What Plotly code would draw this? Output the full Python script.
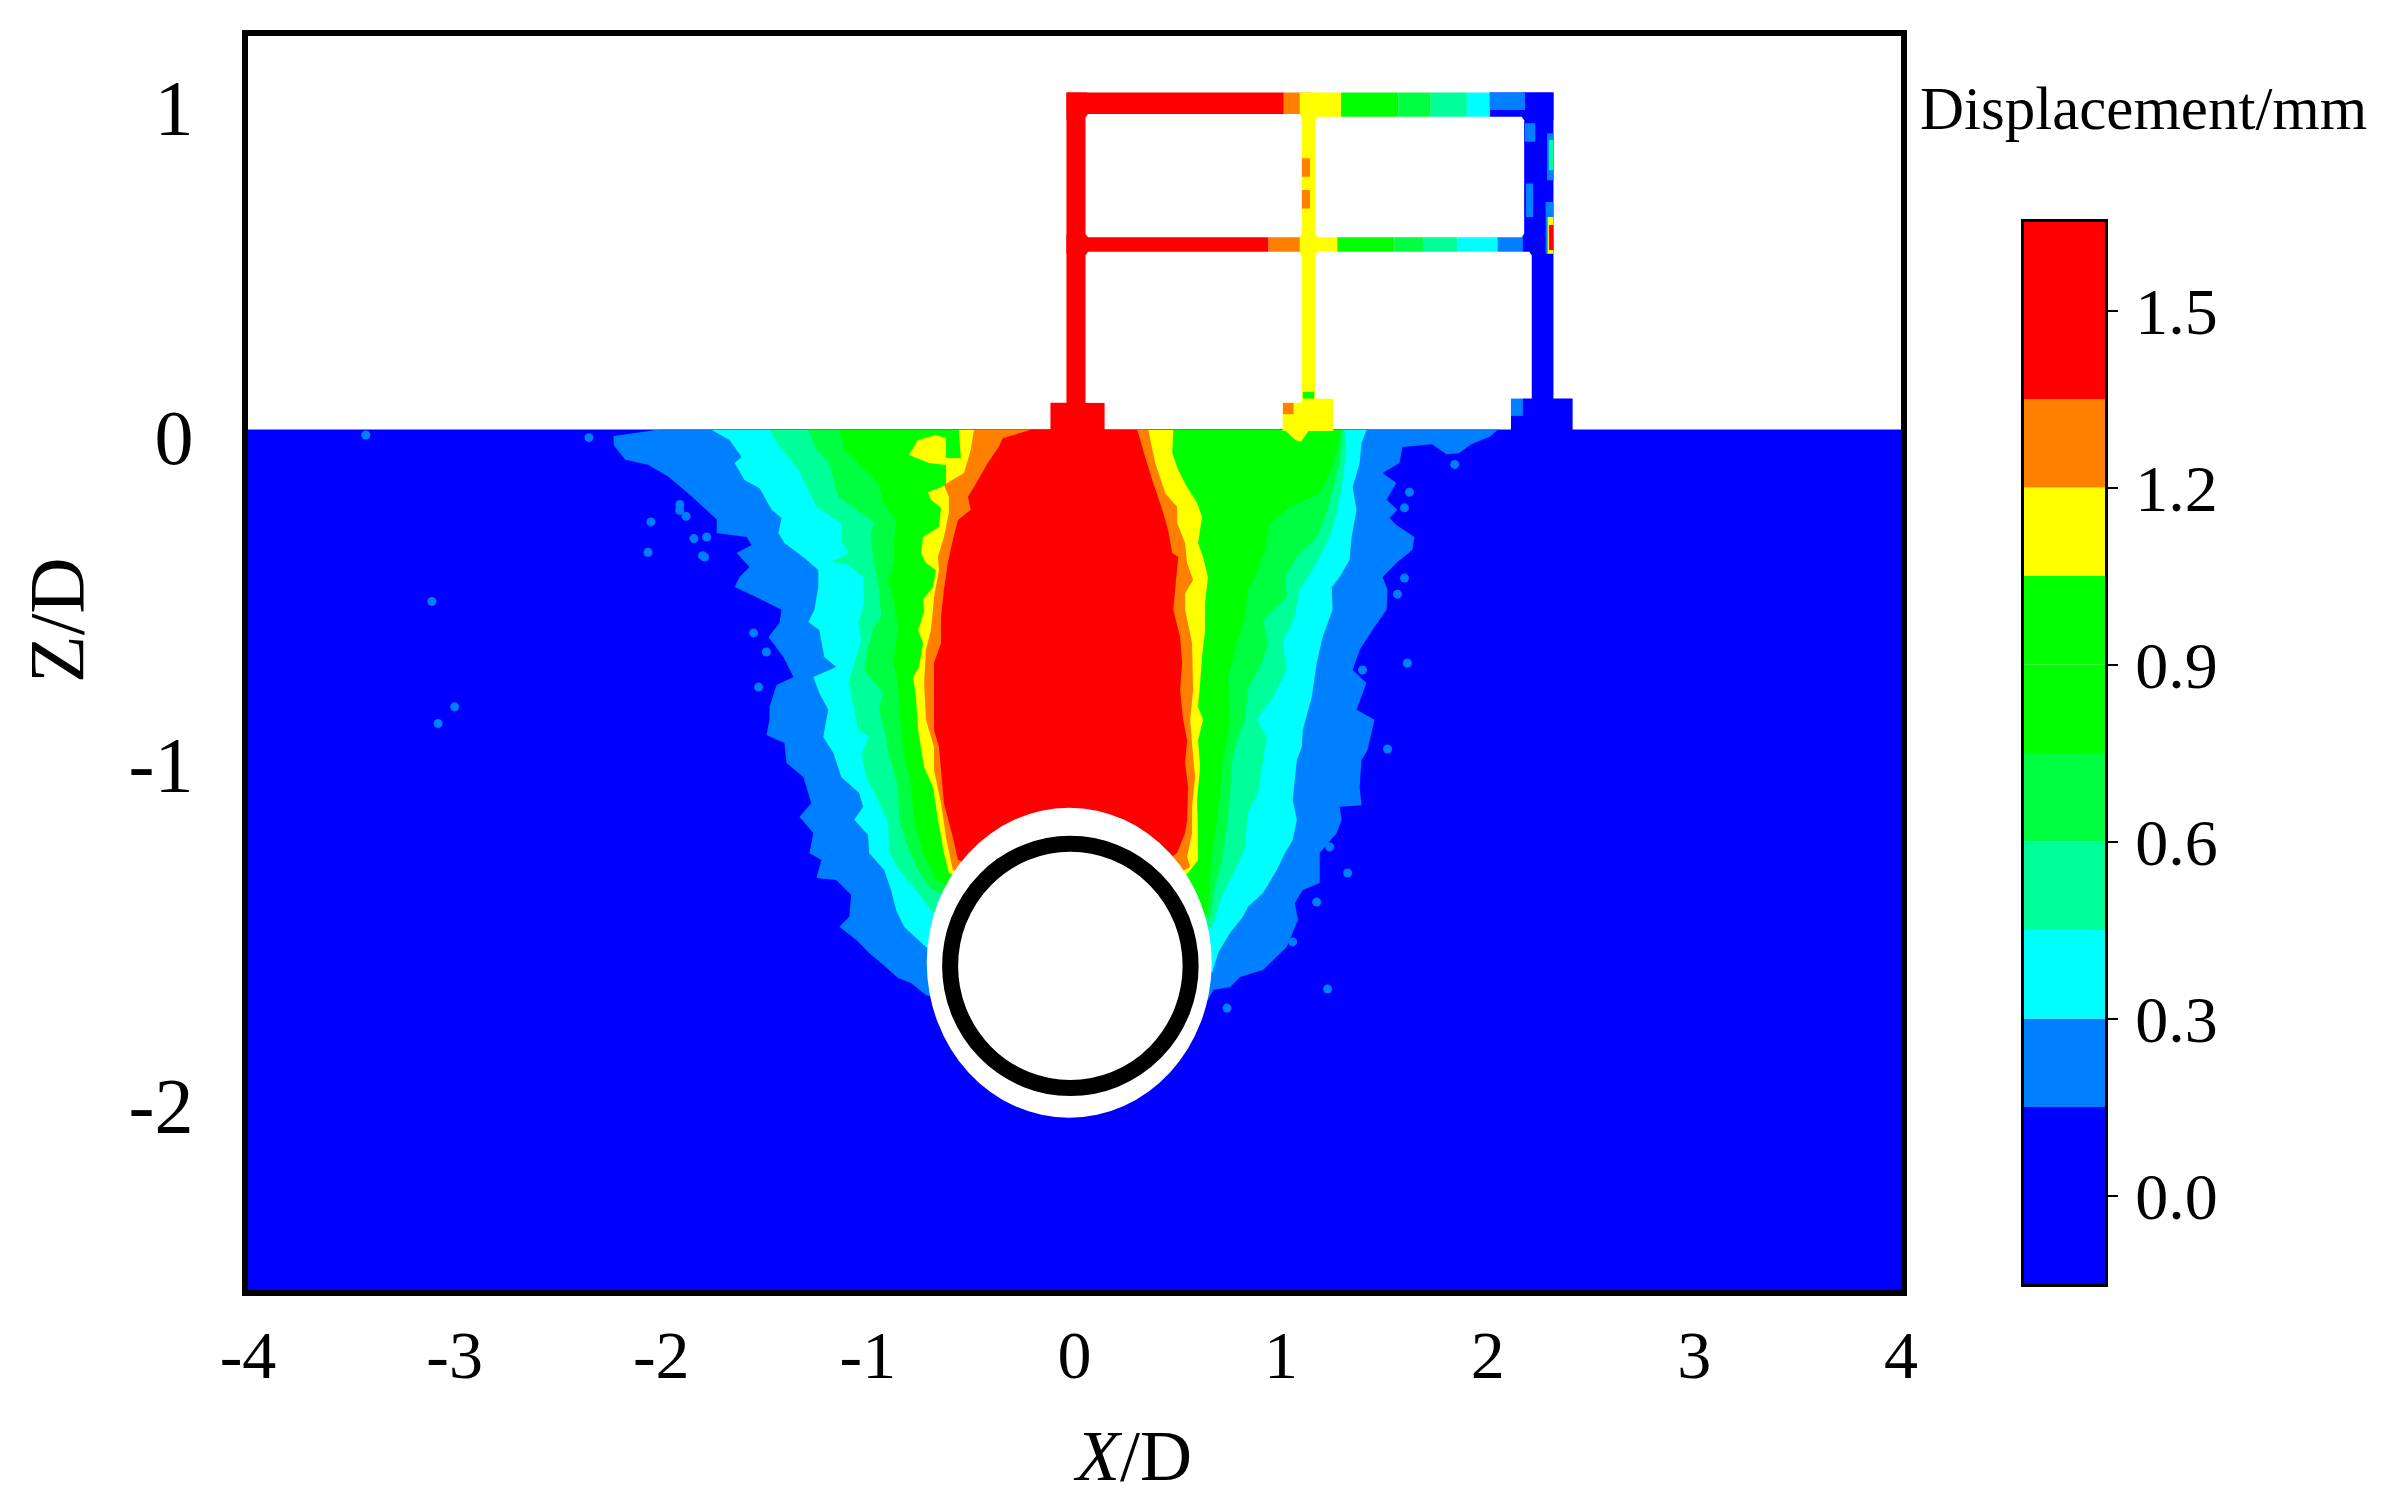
import plotly.graph_objects as go

# contour bands of the soil in X/D and Z/D
BLUE = "#0000ff"
LIGHT_BLUE = "#007fff"
CYAN = "#00ffff"
SPRING = "#00ff99"
MID_GREEN = "#00ff40"
GREEN = "#00ff00"
YELLOW = "#ffff00"
ORANGE = "#ff8000"
RED = "#ff0000"

# colour scale
SCALE_BOTTOM = [-0.15, 0.15, 0.3, 0.45, 0.6, 0.75, 0.9, 1.05, 1.2, 1.35]
SCALE_HEIGHT = [0.3, 0.15, 0.15, 0.15, 0.15, 0.15, 0.15, 0.15, 0.15, 0.3]
SCALE_COLORS = [BLUE, LIGHT_BLUE, CYAN, SPRING, MID_GREEN, GREEN, GREEN, YELLOW, ORANGE, RED]
SCALE_TICKS = [0.0, 0.3, 0.6, 0.9, 1.2, 1.5]
X_TICKS = [-4, -3, -2, -1, 0, 1, 2, 3, 4]
X_LABELS = ["-4", "-3", "-2", "-1", "0", "1", "2", "3", "4"]
# the labels on the left are not evenly spaced in the picture
Z_TICKS = [-1.985, -0.965, 0.014, 1.0]
Z_LABELS = ["-2", "-1", "0", "1"]

GROUND_X = [-4.1, 4.1, 4.1, -4.1]
GROUND_Z = [0.034, 0.034, -2.6, -2.6]

BAND_015_X = [-2.008, -2.23, -2.23, -2.174, -2.064, -1.967, -1.856, -1.731, -1.732, -1.587, -1.563, -1.635, -1.573,
              -1.621, -1.645, -1.539, -1.418, -1.428, -1.481, -1.409, -1.36, -1.442, -1.476, -1.476, -1.491, -1.404,
              -1.394, -1.312, -1.274, -1.331, -1.264, -1.283, -1.225, -1.249, -1.153, -1.081, -1.09, -1.138, -1.056,
              -0.994, -0.936, -0.854, -0.791, -0.719, -0.55, 0.56, 0.646, 0.671, 0.753, 0.801, 0.912, 0.96, 1.027,
              1.056, 1.081, 1.066, 1.105, 1.187, 1.187, 1.269, 1.293, 1.283, 1.389, 1.38, 1.389, 1.418, 1.452, 1.365,
              1.413, 1.346, 1.38, 1.442, 1.51, 1.515, 1.491, 1.558, 1.635, 1.645, 1.558, 1.524, 1.563, 1.51, 1.558,
              1.491, 1.573, 1.587, 1.73, 1.8, 1.86, 1.92, 2.01, 2.05]
BAND_015_Z = [0.034, 0.015, -0.013, -0.056, -0.071, -0.106, -0.164, -0.235, -0.275, -0.287, -0.311, -0.335, -0.377,
              -0.407, -0.437, -0.467, -0.505, -0.544, -0.586, -0.646, -0.706, -0.73, -0.795, -0.834, -0.879, -0.903,
              -0.963, -1.005, -1.083, -1.124, -1.172, -1.232, -1.253, -1.307, -1.313, -1.358, -1.423, -1.453, -1.492,
              -1.531, -1.561, -1.606, -1.621, -1.657, -1.687, -1.687, -1.672, -1.642, -1.633, -1.603, -1.582, -1.552,
              -1.513, -1.471, -1.432, -1.382, -1.343, -1.322, -1.232, -1.172, -1.133, -1.094, -1.089, -1.035, -0.954,
              -0.924, -0.834, -0.804, -0.724, -0.685, -0.625, -0.565, -0.505, -0.446, -0.407, -0.365, -0.326, -0.287,
              -0.251, -0.23, -0.206, -0.176, -0.126, -0.096, -0.066, -0.018, -0.01, -0.04, -0.037, -0.01, 0.013, 0.034]

BAND_03_X = [-1.756, -1.669, -1.611, -1.645, -1.597, -1.524, -1.466, -1.418, -1.433, -1.404, -1.307, -1.24, -1.24,
             -1.259, -1.288, -1.235, -1.211, -1.153, -1.264, -1.235, -1.192, -1.201, -1.216, -1.167, -1.129, -1.042,
             -1.023, -1.066, -0.999, -0.994, -0.921, -0.888, -0.863, -0.825, -0.719, -0.55, 0.56, 0.666, 0.695, 0.753,
             0.815, 0.839, 0.912, 0.979, 1.018, 1.056, 1.076, 1.056, 1.066, 1.076, 1.1, 1.105, 1.148, 1.172, 1.201,
             1.249, 1.245, 1.283, 1.331, 1.341, 1.365, 1.346, 1.38, 1.389, 1.413]
BAND_03_Z = [0.033, 0.003, -0.048, -0.066, -0.117, -0.141, -0.206, -0.23, -0.275, -0.305, -0.35, -0.386, -0.437,
             -0.505, -0.541, -0.565, -0.646, -0.676, -0.706, -0.754, -0.804, -0.834, -0.885, -0.933, -1.005, -1.053,
             -1.094, -1.133, -1.178, -1.232, -1.283, -1.343, -1.403, -1.453, -1.513, -1.552, -1.552, -1.591, -1.531,
             -1.471, -1.423, -1.394, -1.352, -1.283, -1.232, -1.193, -1.133, -1.074, -1.023, -0.954, -0.915, -0.864,
             -0.766, -0.664, -0.586, -0.505, -0.437, -0.407, -0.356, -0.287, -0.206, -0.138, -0.066, -0.006, 0.033]

BAND_045_X = [-1.476, -1.428, -1.394, -1.336, -1.288, -1.249, -1.129, -1.129, -1.095, -1.177, -1.095, -1.023, -1.018,
              -1.047, -1.032, -1.056, -1.095, -1.066, -1.047, -0.994, -1.032, -1.008, -0.945, -0.902, -0.897, -0.849,
              -0.757, -0.695, -0.55, 0.56, 0.666, 0.719, 0.786, 0.825, 0.839, 0.888, 0.907, 0.931, 0.883, 0.96, 1.027,
              1.008, 1.066, 1.09, 1.172, 1.235, 1.274, 1.298, 1.317, 1.307]
BAND_045_Z = [0.033, -0.018, -0.042, -0.087, -0.147, -0.197, -0.245, -0.296, -0.335, -0.362, -0.371, -0.407, -0.484,
              -0.544, -0.595, -0.646, -0.724, -0.804, -0.864, -0.885, -0.933, -1.005, -1.083, -1.142, -1.232, -1.283,
              -1.352, -1.403, -1.462, -1.462, -1.453, -1.352, -1.274, -1.214, -1.112, -1.053, -0.975, -0.885, -0.834,
              -0.766, -0.685, -0.604, -0.526, -0.446, -0.365, -0.287, -0.206, -0.117, -0.018, 0.033]

BAND_06_X = [-1.288, -1.249, -1.187, -1.167, -1.143, -1.056, -0.97, -0.984, -0.984, -0.97, -0.945, -0.936, -0.97,
             -0.999, -1.018, -0.926, -0.945, -0.936, -0.912, -0.902, -0.854, -0.849, -0.806, -0.757, -0.704, -0.55,
             0.56, 0.656, 0.68, 0.714, 0.738, 0.753, 0.762, 0.786, 0.825, 0.839, 0.907, 0.936, 0.912, 1.027, 1.018,
             1.076, 1.172, 1.22, 1.249, 1.283, 1.298]
BAND_06_Z = [0.033, -0.027, -0.066, -0.117, -0.167, -0.206, -0.242, -0.275, -0.305, -0.365, -0.446, -0.526, -0.556,
             -0.616, -0.685, -0.754, -0.795, -0.834, -0.885, -0.933, -1.035, -1.133, -1.214, -1.283, -1.334, -1.388,
             -1.388, -1.432, -1.334, -1.253, -1.154, -1.053, -0.954, -0.894, -0.834, -0.745, -0.664, -0.604, -0.535,
             -0.467, -0.407, -0.347, -0.287, -0.215, -0.147, -0.066, 0.033]

BAND_075_X = [-1.138, -1.114, -1.047, -0.95, -0.926, -0.863, -0.873, -0.873, -0.902, -0.873, -0.854, -0.878, -0.854,
              -0.849, -0.839, -0.825, -0.791, -0.777, -0.733, -0.671, -0.55, 0.56, 0.642, 0.656, 0.666, 0.69, 0.704,
              0.719, 0.753, 0.743, 0.786, 0.825, 0.839, 0.888, 0.931, 0.945, 1.042, 1.187, 1.235, 1.274, 1.293]
BAND_075_Z = [0.033, -0.027, -0.066, -0.126, -0.185, -0.236, -0.296, -0.365, -0.416, -0.484, -0.565, -0.664, -0.724,
              -0.795, -0.864, -0.933, -1.035, -1.133, -1.232, -1.313, -1.343, -1.343, -1.423, -1.313, -1.232, -1.133,
              -1.053, -0.954, -0.834, -0.706, -0.604, -0.526, -0.446, -0.386, -0.305, -0.245, -0.197, -0.156, -0.096,
              -0.018, 0.033]

BAND_105_X = [-0.56, -0.55, -0.622, -0.622, -0.671, -0.757, -0.801, -0.743, -0.704, -0.622, -0.622, -0.709, -0.695,
              -0.646, -0.656, -0.733, -0.743, -0.719, -0.671, -0.685, -0.733, -0.728, -0.757, -0.733, -0.753, -0.781,
              -0.767, -0.757, -0.728, -0.685, -0.661, -0.632, -0.608, -0.478, 0.463, 0.55, 0.598, 0.598, 0.593, 0.608,
              0.598, 0.622, 0.598, 0.608, 0.617, 0.632, 0.632, 0.646, 0.622, 0.598, 0.617, 0.593, 0.545, 0.502, 0.473,
              0.478]
BAND_105_Z = [0.033, -0.051, -0.051, 0.009, 0.018, 0.003, -0.042, -0.057, -0.066, -0.072, -0.132, -0.153, -0.176, -0.2,
              -0.257, -0.287, -0.335, -0.365, -0.386, -0.437, -0.475, -0.511, -0.565, -0.604, -0.676, -0.706, -0.766,
              -0.864, -0.975, -1.035, -1.133, -1.232, -1.292, -1.328, -1.328, -1.292, -1.253, -1.172, -1.074, -0.975,
              -0.894, -0.834, -0.795, -0.724, -0.646, -0.565, -0.484, -0.407, -0.347, -0.305, -0.227, -0.185, -0.138,
              -0.087, -0.036, 0.033]

BAND_12_X = [-0.487, -0.502, -0.535, -0.632, -0.608, -0.608, -0.632, -0.661, -0.656, -0.68, -0.685, -0.695, -0.719,
             -0.728, -0.719, -0.68, -0.68, -0.646, -0.622, -0.589, -0.453, 0.439, 0.56, 0.545, 0.569, 0.569, 0.584,
             0.574, 0.56, 0.574, 0.569, 0.535, 0.535, 0.574, 0.545, 0.535, 0.497, 0.497, 0.439, 0.391, 0.367, 0.357]
BAND_12_Z = [0.033, -0.027, -0.096, -0.132, -0.167, -0.215, -0.287, -0.347, -0.386, -0.467, -0.505, -0.565, -0.625,
             -0.724, -0.834, -0.915, -0.984, -1.083, -1.184, -1.283, -1.313, -1.313, -1.274, -1.244, -1.172, -1.094,
             -1.005, -0.945, -0.834, -0.745, -0.604, -0.505, -0.455, -0.416, -0.365, -0.305, -0.245, -0.197, -0.156,
             -0.066, 0.003, 0.033]

BAND_135_X = [-0.208, -0.347, -0.367, -0.42, -0.487, -0.516, -0.502, -0.564, -0.589, -0.613, -0.632, -0.646, -0.646,
              -0.68, -0.68, -0.656, -0.646, -0.632, -0.589, -0.564, -0.405, 0.367, 0.497, 0.535, 0.545, 0.55, 0.535,
              0.545, 0.526, 0.511, 0.521, 0.511, 0.478, 0.487, 0.502, 0.473, 0.453, 0.425, 0.381, 0.342, 0.304]
BAND_135_Z = [0.034, 0.008, -0.018, -0.066, -0.138, -0.167, -0.206, -0.236, -0.296, -0.365, -0.446, -0.526, -0.604,
              -0.664, -0.864, -0.915, -0.984, -1.083, -1.184, -1.253, -1.283, -1.283, -1.232, -1.172, -1.133, -1.035,
              -0.963, -0.894, -0.834, -0.745, -0.664, -0.586, -0.505, -0.437, -0.347, -0.335, -0.266, -0.206, -0.126,
              -0.048, 0.033]

SPECK_X = [-1.911, -2.05, -2.064, -1.8, -1.842, -1.553, -1.491, -1.529, -1.78, -1.79, 1.515, 1.322, 1.172, 1.225,
           0.738, 1.056, 1.621, 1.597, 1.597, 1.563, 1.611, 1.394, 1.235, 1.84, -3.11, -3.08, -3.0, -3.43, -2.35,
           -1.91, -1.88]
SPECK_Z = [-0.207, -0.242, -0.333, -0.343, -0.292, -0.574, -0.631, -0.736, -0.287, -0.347, -0.921, -1.292, -1.379,
           -1.639, -1.696, -1.498, -0.153, -0.2, -0.41, -0.458, -0.664, -0.685, -1.214, -0.07, -0.48, -0.845, -0.795,
           0.018, 0.01, -0.19, -0.225]

# the frame: beams are cut along X, each part has its own colour
TOP_BEAM_EDGES = [-0.039, 1.013, 1.142, 1.29, 1.567, 1.724, 1.899, 2.01, 2.318]
TOP_BEAM_COLORS = [RED, ORANGE, YELLOW, GREEN, MID_GREEN, SPRING, CYAN, BLUE]
MID_BEAM_EDGES = [-0.039, 0.9395, 1.106, 1.272, 1.549, 1.687, 1.853, 2.047, 2.195, 2.318]
MID_BEAM_COLORS = [RED, ORANGE, YELLOW, GREEN, MID_GREEN, SPRING, CYAN, LIGHT_BLUE, BLUE]

# x0, x1, z0, z1 of columns, footings and stains on them
PART_X0 = [-0.039, 1.09, 2.17, -0.1165, 1.0077, 2.1116, 1.105, 1.10, 1.10, 1.0077, 2.18, 2.287, 2.296, 2.185, 2.28,
           2.29, 2.296, 2.1116, 2.01]
PART_X1 = [0.06, 1.175, 2.318, 0.1456, 1.2532, 2.4107, 1.16, 1.14, 1.14, 1.06, 2.23, 2.318, 2.318, 2.22, 2.318,
           2.318, 2.318, 2.17, 2.18]
PART_Z0 = [0.11, 0.11, 0.11, 0.03, 0.03, 0.03, 0.127, 0.7904, 0.6956, 0.08, 0.895, 0.78, 0.81, 0.67, 0.56, 0.56, 0.571,
           0.075, 0.99]
PART_Z1 = [1.042, 1.042, 1.042, 0.1144, 0.1274, 0.1274, 0.147, 0.8452, 0.7505, 0.1144, 0.95, 0.92, 0.9, 0.77, 0.715,
           0.67, 0.646, 0.1274, 1.042]
PART_COLORS = [RED, YELLOW, BLUE, RED, YELLOW, BLUE, GREEN, ORANGE, ORANGE, ORANGE, LIGHT_BLUE, LIGHT_BLUE, SPRING,
               LIGHT_BLUE, LIGHT_BLUE, YELLOW, RED, LIGHT_BLUE, LIGHT_BLUE]

FOOT_STAIN_X = [1.0, 1.069, 1.096, 1.142, 1.253, 1.253, 1.0]
FOOT_STAIN_Z = [0.043, 0.003, -0.002, 0.038, 0.053, 0.1, 0.1]

WINDOW_1_X = [0.0653, 1.088, 1.1, 1.1, 1.088, 0.0653, 0.0533, 0.0533]
WINDOW_1_Z = [0.6089, 0.6089, 0.62, 0.967, 0.9778, 0.9778, 0.967, 0.62]
WINDOW_2_X = [1.1766, 2.164, 2.1762, 2.1762, 2.164, 1.1766, 1.1646, 1.1646]
WINDOW_2_Z = [0.6089, 0.6089, 0.62, 0.959, 0.9698, 0.9698, 0.959, 0.62]
WINDOW_3_X = [0.0653, 1.088, 1.1, 1.1, 1.0077, 1.0077, 0.1493, 0.1493, 0.0533, 0.0533]
WINDOW_3_Z = [0.566, 0.566, 0.555, 0.1144, 0.1144, 0.036, 0.036, 0.1144, 0.1144, 0.555]
WINDOW_4_X = [1.1766, 2.201, 2.2131, 2.2131, 2.1116, 2.1116, 1.2532, 1.2532, 1.1646, 1.1646]
WINDOW_4_Z = [0.566, 0.566, 0.555, 0.1274, 0.1274, 0.036, 0.036, 0.1274, 0.1274, 0.555]

# tunnel: outer white ring and black lining
HOLE_X = [-0.715, 0.664]
HOLE_Z = [-2.024, -1.097]
LINING_X = [-0.602, 0.562]
LINING_Z = [-1.935, -1.2045]

# the page body keeps its 8px margin, so the figure is a bit smaller than the window
PAGE_MARGIN = 8
WIDTH = 2383 - 2 * PAGE_MARGIN
HEIGHT = 1507 - 2 * PAGE_MARGIN
FONT = "Liberation Serif"


def page_x(px):
    return (px - PAGE_MARGIN) / WIDTH


def page_y(px):
    return 1 - (px - PAGE_MARGIN) / HEIGHT


def patch(fig, xs, zs, color):
    fig.add_trace(go.Scatter(x=xs, y=zs, mode="lines", fill="toself", fillcolor=color,
                             line=dict(width=0, color=color), hoverinfo="skip"))


fig = go.Figure()

patch(fig, GROUND_X, GROUND_Z, BLUE)
patch(fig, BAND_015_X, BAND_015_Z, LIGHT_BLUE)
fig.add_trace(go.Scatter(x=SPECK_X, y=SPECK_Z, mode="markers", marker=dict(color=LIGHT_BLUE, size=9), hoverinfo="skip"))
patch(fig, BAND_03_X, BAND_03_Z, CYAN)
patch(fig, BAND_045_X, BAND_045_Z, SPRING)
patch(fig, BAND_06_X, BAND_06_Z, MID_GREEN)
patch(fig, BAND_075_X, BAND_075_Z, GREEN)
patch(fig, BAND_105_X, BAND_105_Z, YELLOW)
patch(fig, BAND_12_X, BAND_12_Z, ORANGE)
patch(fig, BAND_135_X, BAND_135_Z, RED)
patch(fig, FOOT_STAIN_X, FOOT_STAIN_Z, YELLOW)

# frame
for i, color in enumerate(TOP_BEAM_COLORS):
    x0, x1 = TOP_BEAM_EDGES[i], TOP_BEAM_EDGES[i + 1]
    patch(fig, [x0, x1, x1, x0], [0.96, 0.96, 1.042, 1.042], color)
for i, color in enumerate(MID_BEAM_COLORS):
    x0, x1 = MID_BEAM_EDGES[i], MID_BEAM_EDGES[i + 1]
    patch(fig, [x0, x1, x1, x0], [0.56, 0.56, 0.615, 0.615], color)
for x0, x1, z0, z1, color in zip(PART_X0, PART_X1, PART_Z0, PART_Z1, PART_COLORS):
    patch(fig, [x0, x1, x1, x0], [z0, z0, z1, z1], color)
patch(fig, WINDOW_1_X, WINDOW_1_Z, "white")
patch(fig, WINDOW_2_X, WINDOW_2_Z, "white")
patch(fig, WINDOW_3_X, WINDOW_3_Z, "white")
patch(fig, WINDOW_4_X, WINDOW_4_Z, "white")

# colour scale on its own axes
fig.add_trace(go.Bar(x=[0] * len(SCALE_BOTTOM), y=SCALE_HEIGHT, base=SCALE_BOTTOM, width=1,
                     marker=dict(color=SCALE_COLORS, line=dict(width=0)), xaxis="x2", yaxis="y2", hoverinfo="skip"))

fig.add_shape(type="circle", xref="x", yref="y", x0=HOLE_X[0], x1=HOLE_X[1], y0=HOLE_Z[0], y1=HOLE_Z[1],
              fillcolor="white", line=dict(width=0))
fig.add_shape(type="circle", xref="x", yref="y", x0=LINING_X[0], x1=LINING_X[1], y0=LINING_Z[0], y1=LINING_Z[1],
              fillcolor="white", line=dict(width=16, color="black"))

fig.add_annotation(text="Displacement/mm", xref="paper", yref="paper", x=page_x(1918), y=page_y(109),
                   xanchor="left", yanchor="middle", showarrow=False, font=dict(size=61))
fig.add_annotation(text="<i>X</i>/D", xref="paper", yref="paper", x=page_x(1132), y=page_y(1456),
                   xanchor="center", yanchor="middle", showarrow=False, font=dict(size=72))
fig.add_annotation(text="Z/D", xref="paper", yref="paper", x=page_x(56), y=page_y(620),
                   xanchor="center", yanchor="middle", showarrow=False, textangle=-90, font=dict(size=78))

# axis lines sit outside the plot area, so the domains stop half a line short of the frame centre
fig.update_layout(
    width=WIDTH, height=HEIGHT, margin=dict(l=0, r=0, t=0, b=0), template="none",
    paper_bgcolor="white", plot_bgcolor="white", showlegend=False, barmode="overlay",
    font=dict(family=FONT, color="black"),
    xaxis=dict(domain=[page_x(248), page_x(1901)], range=[-4, 4], tickvals=X_TICKS, ticktext=X_LABELS,
               showgrid=False, zeroline=False, ticks="", showline=True, mirror=True, linecolor="black", linewidth=6,
               tickfont=dict(size=68), ticklabelstandoff=0),
    yaxis=dict(domain=[page_y(1290), page_y(35.5)], range=[-2.539, 1.2126], tickvals=Z_TICKS, ticktext=Z_LABELS,
               showgrid=False, zeroline=False, ticks="", showline=True, mirror=True, linecolor="black", linewidth=6,
               tickfont=dict(size=78), ticklabelstandoff=33),
    xaxis2=dict(domain=[page_x(2024), page_x(2105)], range=[-0.5, 0.5], anchor="y2", showticklabels=False, ticks="",
                showgrid=False, zeroline=False, showline=True, mirror=True, linecolor="black", linewidth=3),
    yaxis2=dict(domain=[page_y(1284), page_y(222)], range=[-0.15, 1.65], anchor="x2", side="right",
                tickvals=SCALE_TICKS, tickformat=".1f", ticks="outside", ticklen=10, tickwidth=2, tickcolor="black",
                showgrid=False, zeroline=False, showline=True, mirror=True, linecolor="black", linewidth=3,
                tickfont=dict(size=66), ticklabelstandoff=4),
)

fig.write_html("out.html")
